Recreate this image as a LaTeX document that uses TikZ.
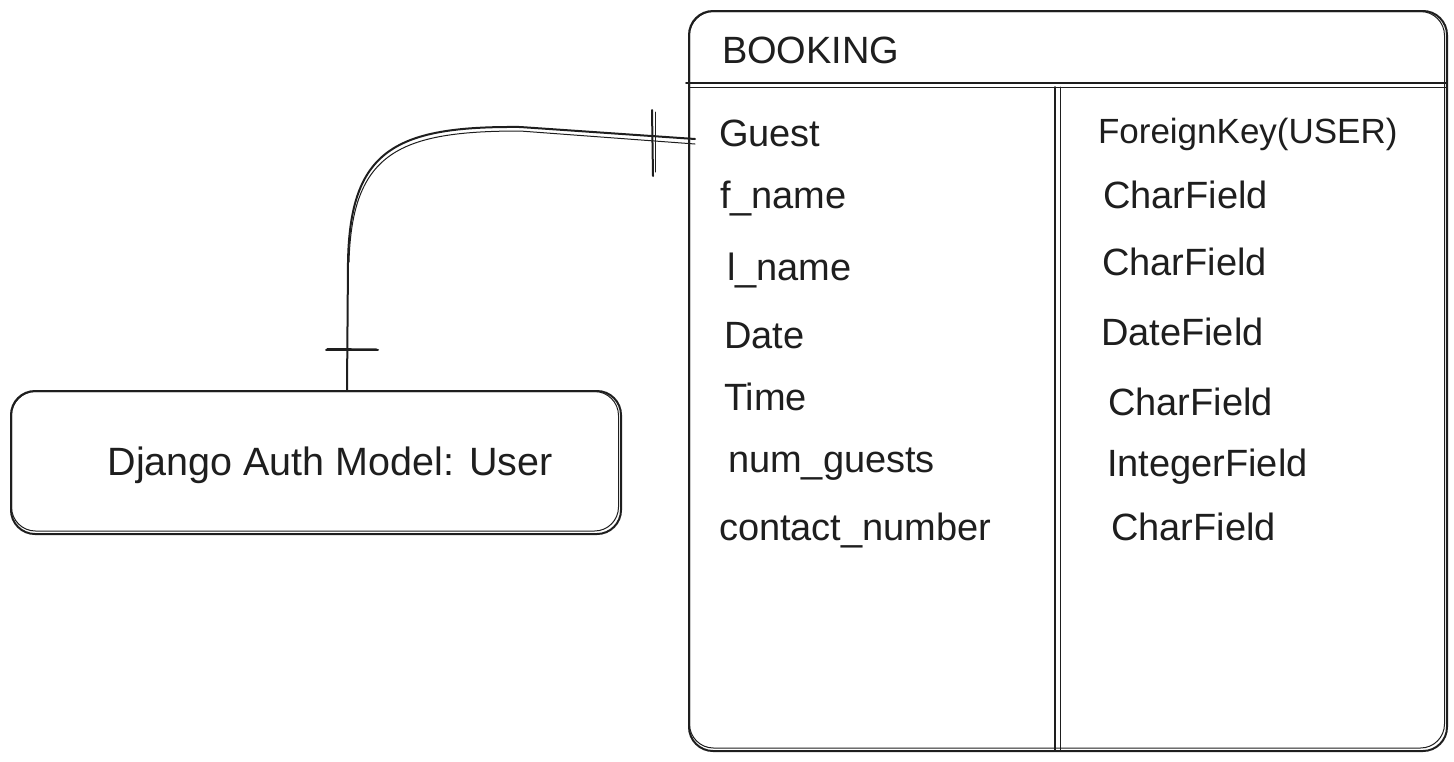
\documentclass[tikz,border=0pt]{standalone}
\usepackage{fontspec}
\setmainfont{Liberation Sans}
\definecolor{ink}{HTML}{1E1E1E}
\begin{document}
\begin{tikzpicture}[x=1pt,y=-1pt,line width=2pt,line cap=round,line join=round,draw=ink,
  lbl/.style={anchor=base west,inner sep=0pt,text=ink,font=\fontsize{38}{42}\selectfont},
  boxstyle/.style={draw=ink,rounded corners=24pt,inner sep=0pt,anchor=north west},
  thin/.style={line width=1pt}]
\useasboundingbox (0,0) rectangle (1454,761);
% BOOKING table
\node[boxstyle,minimum width=758pt,minimum height=740pt] (booking) at (688,10) {};
\draw[thin,rounded corners=24pt] (689.5,11.5) rectangle (1444.5,748);
\coordinate (hl1) at (686,82.5); \coordinate (hr1) at (1446,82.5);
\coordinate (hl2) at (689,87);   \coordinate (hr2) at (1446,87);
\draw (hl1) -- (hr1);
\draw[thin] (hl2) -- (hr2);
\coordinate (vt1) at (1055,87); \coordinate (vb1) at (1055,750);
\coordinate (vt2) at (1060,87); \coordinate (vb2) at (1060,750);
\draw (vt1) -- (vb1);
\draw[thin] (vt2) -- (vb2);
\node[lbl] (title) at (721,63) {BOOKING};
% left column
\node[lbl] (f1) at (718,146) {Guest};
\node[lbl] (f2) at (719,208) {f\_name};
\node[lbl] (f3) at (726,280) {l\_name};
\node[lbl] (f4) at (723,348) {Date};
\node[lbl] (f5) at (723,410) {Time};
\node[lbl] (f6) at (727,472) {num\_guests};
\node[lbl] (f7) at (718,540) {contact\_number};
% right column
\node[lbl,font=\fontsize{35}{40}\selectfont] (t1) at (1097,143) {ForeignKey(USER)};
\node[lbl] (t2) at (1102,208) {CharField};
\node[lbl] (t3) at (1101,275) {CharField};
\node[lbl] (t4) at (1100,345) {DateField};
\node[lbl] (t5) at (1107,415) {CharField};
\node[lbl] (t6) at (1106,476) {IntegerField};
\node[lbl] (t7) at (1110,540) {CharField};
% User box
\node[boxstyle,minimum width=610pt,minimum height=143pt] (user) at (10,390) {};
\draw[thin,rounded corners=24pt] (11.5,391.5) rectangle (618.5,531);
\node[anchor=base,inner sep=0pt,text=ink,font=\fontsize{39.5}{44}\selectfont] (utext) at (330,475) {Django Auth Model: User};
% connector
\coordinate (gconn) at (695,139);
\coordinate (uconn) at (347,390);
\draw (gconn) -- (520,127) .. controls (395,126) and (350,150) .. (348,262) -- (uconn);
\draw[thin] ([yshift=-5pt]gconn) -- (520,131) .. controls (400,131) and (352,152) .. (349,262);
% one-marks
\coordinate (b1t) at (652,110); \coordinate (b1b) at (653,176);
\coordinate (b2t) at (655,112); \coordinate (b2b) at (655,172);
\draw (b1t) -- (b1b);
\draw[thin] (b2t) -- (b2b);
\coordinate (c1l) at (326,350); \coordinate (c1r) at (378,350);
\draw (c1l) -- (c1r);
\draw[thin] (327,348.5) -- (377,349);
\end{tikzpicture}
\end{document}
